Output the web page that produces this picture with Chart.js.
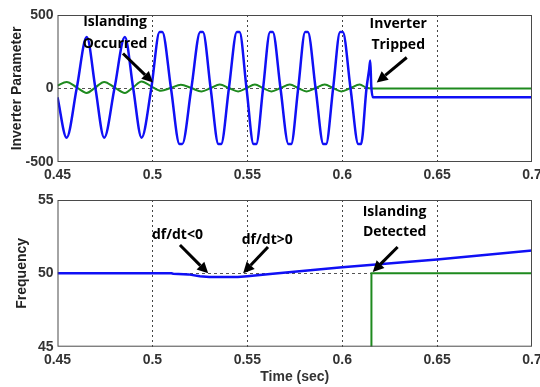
<!DOCTYPE html>
<html>
<head>
<meta charset="utf-8">
<script src="https://cdn.jsdelivr.net/npm/chart.js@4"></script>
<style>
  html, body { margin: 0; padding: 0; background: #fff; }
  #wrap { position: relative; width: 540px; height: 387px; overflow: hidden; }
  #topBox { position: absolute; left: 0; top: 0; width: 540px; height: 190px; }
  #botBox { position: absolute; left: 0; top: 190px; width: 540px; height: 197px; }
</style>
</head>
<body>
<div id="wrap">
  <div id="topBox"><canvas id="paramChart"></canvas></div>
  <div id="botBox"><canvas id="freqChart"></canvas></div>
</div>
<script>
// tick labels
const xTicks = [0.45, 0.5, 0.55, 0.6, 0.65, 0.7];
const xTickLabels = ['0.45', '0.5', '0.55', '0.6', '0.65', '0.7'];
const paramTicks = [-500, 0, 500];
const freqTicks = [45, 50, 55];

// inverter output (blue), read at peaks / troughs / zero crossings
const invTime = [0.4500, 0.4548, 0.4601, 0.4654, 0.4700, 0.4746, 0.4800, 0.4855, 0.4899, 0.4943,
  0.4994, 0.5038, 0.5052, 0.5098, 0.5143, 0.5157, 0.5205, 0.5252, 0.5266, 0.5307,
  0.5348, 0.5362, 0.5403, 0.5445, 0.5459, 0.5496, 0.5533, 0.5547, 0.5583, 0.5620,
  0.5634, 0.5675, 0.5717, 0.5731, 0.5768, 0.5805, 0.5819, 0.5860, 0.5901, 0.5915,
  0.5952, 0.5989, 0.6003, 0.6044, 0.6085, 0.6099, 0.6128, 0.6142, 0.6148, 0.6153,
  0.6162, 0.7000];
const invValue = [-60, -335, 0, 350, 0, -335, 0, 350, 0, -335,
  0, 385, 385, 0, -378, -378, 0, 385, 385, 0,
  -378, -378, 0, 385, 385, 0, -378, -378, 0, 385,
  385, 0, -378, -378, 0, 385, 385, 0, -378, -378,
  0, 385, 385, 0, -378, -378, 0, 130, 190, 20,
  -60, -60];

// second inverter quantity (green)
const auxTime = [0.4500, 0.4548, 0.4601, 0.4654, 0.4700, 0.4746, 0.4800, 0.4855, 0.4899, 0.4943,
  0.4994, 0.5045, 0.5098, 0.5150, 0.5205, 0.5259, 0.5307, 0.5355, 0.5403, 0.5452,
  0.5496, 0.5540, 0.5583, 0.5627, 0.5675, 0.5724, 0.5768, 0.5812, 0.5860, 0.5908,
  0.5952, 0.5996, 0.6044, 0.6092, 0.6128, 0.6155, 0.7000];
const auxValue = [20, 45, 8, -30, 8, 45, 8, -30, 8, 48,
  15, -15, 5, 25, 3, -20, 3, 27, 3, -20,
  3, 27, 3, -20, 3, 27, 3, -20, 3, 27,
  3, -20, 3, 27, 5, 0, 0];

// frequency (blue) and detection signal (green)
const freqTime = [0.45, 0.51, 0.511, 0.519, 0.525, 0.53, 0.545, 0.55, 0.562, 0.6, 0.65, 0.7];
const freqValue = [50, 50, 49.97, 49.93, 49.8, 49.75, 49.75, 49.8, 49.95, 50.41, 50.95, 51.55];
const detectTime = [0.6154, 0.6154, 0.7];
const detectValue = [45, 50, 50];

// text notes and arrows, in data units
const topNotes = [
  { x: 0.4803, y: 449, text: 'Islanding' },
  { x: 0.4803, y: 306, text: 'Occurred' },
  { x: 0.6295, y: 442, text: 'Inverter' },
  { x: 0.6295, y: 299, text: 'Tripped' }
];
const topArrows = [
  { from: [0.4845, 238], to: [0.5003, 41] },
  { from: [0.6340, 211], to: [0.6182, 41] }
];
const botNotes = [
  { x: 0.5132, y: 52.6, text: 'df/dt<0' },
  { x: 0.5605, y: 52.27, text: 'df/dt>0' },
  { x: 0.6276, y: 54.2, text: 'Islanding' },
  { x: 0.6276, y: 52.84, text: 'Detected' }
];
const botArrows = [
  { from: [0.5145, 51.93], to: [0.5294, 50.0] },
  { from: [0.5609, 51.8], to: [0.5478, 50.0] },
  { from: [0.6292, 51.8], to: [0.6161, 50.1] }
];

const BLUE = '#1010f5';
const GREEN = '#1e8a1e';
const tickFont = { family: 'Liberation Sans', size: 14, weight: 'bold' };

function toPoints(ts, vs) {
  return ts.map((t, i) => ({ x: t, y: vs[i] }));
}

function drawArrow(ctx, x1, y1, x2, y2) {
  const ang = Math.atan2(y2 - y1, x2 - x1);
  const head = 11, half = 5.5;
  const bx = x2 - head * Math.cos(ang), by = y2 - head * Math.sin(ang);
  ctx.beginPath();
  ctx.moveTo(x1, y1);
  ctx.lineTo(bx, by);
  ctx.lineWidth = 3;
  ctx.stroke();
  ctx.beginPath();
  ctx.moveTo(x2, y2);
  ctx.lineTo(bx + half * Math.sin(ang), by - half * Math.cos(ang));
  ctx.lineTo(bx - half * Math.sin(ang), by + half * Math.cos(ang));
  ctx.closePath();
  ctx.fill();
}

const notesPlugin = {
  id: 'notes',
  afterDraw(chart, args, opts) {
    const { ctx, chartArea: a } = chart;
    const xs = chart.scales.x, ys = chart.scales.y;
    ctx.save();
    ctx.strokeStyle = '#4a4a4a';
    ctx.lineWidth = 1;
    ctx.strokeRect(a.left + 0.5, a.top + 0.5, a.width - 1, a.height - 1);

    ctx.fillStyle = '#000';
    ctx.strokeStyle = '#000';
    ctx.font = 'bold 14px "Open Sans"';
    ctx.textAlign = 'center';
    ctx.textBaseline = 'middle';
    opts.notes.forEach(n => {
      ctx.fillText(n.text, xs.getPixelForValue(n.x), ys.getPixelForValue(n.y));
    });
    opts.arrows.forEach(ar => {
      drawArrow(ctx,
        xs.getPixelForValue(ar.from[0]), ys.getPixelForValue(ar.from[1]),
        xs.getPixelForValue(ar.to[0]), ys.getPixelForValue(ar.to[1]));
    });
    ctx.restore();
  }
};

function buildOptions(cfg) {
  return {
    responsive: true,
    maintainAspectRatio: false,
    animation: false,
    events: [],
    layout: { padding: { top: cfg.topPad, right: 8, left: 0, bottom: 0 } },
    elements: { point: { radius: 0 } },
    plugins: {
      legend: { display: false },
      tooltip: { enabled: false },
      notes: { notes: cfg.notes, arrows: cfg.arrows }
    },
    scales: {
      x: {
        type: 'linear',
        min: 0.45,
        max: 0.7,
        afterBuildTicks: s => { s.ticks = xTicks.map(v => ({ value: v })); },
        afterFit: s => { s.height = cfg.xHeight; s.paddingLeft = 0; s.paddingRight = 0; },
        ticks: {
          font: tickFont,
          color: '#333',
          padding: 5,
          maxRotation: 0,
          callback: (v, i) => xTickLabels[i]
        },
        grid: {
          drawTicks: false,
          lineWidth: 1,
          color: c => (c.index > 0 && c.index < xTicks.length - 1) ? '#444' : 'rgba(0,0,0,0)'
        },
        border: { display: false, dash: [2, 3] },
        title: {
          display: !!cfg.xTitle,
          text: cfg.xTitle || '',
          font: tickFont,
          color: '#333',
          padding: { top: 0, bottom: 1.5 }
        }
      },
      y: {
        min: cfg.yMin,
        max: cfg.yMax,
        afterBuildTicks: s => { s.ticks = cfg.yTicks.map(v => ({ value: v })); },
        afterFit: s => { s.width = 57.5; s.paddingTop = 0; s.paddingBottom = 0; },
        ticks: { font: tickFont, color: '#333', padding: 4 },
        grid: {
          drawTicks: false,
          lineWidth: 1,
          color: c => c.tick && c.tick.value === cfg.yRef ? '#555' : 'rgba(0,0,0,0)'
        },
        border: { display: false, dash: [3, 3] },
        title: {
          display: true,
          text: cfg.yTitle,
          font: tickFont,
          color: '#222',
          padding: { top: cfg.yTitlePad, bottom: 0 }
        }
      }
    }
  };
}

new Chart(document.getElementById('paramChart').getContext('2d'), {
  type: 'line',
  data: {
    datasets: [
      {
        data: toPoints(invTime, invValue),
        borderColor: BLUE,
        borderWidth: 2.5,
        cubicInterpolationMode: 'monotone',
        fill: false
      },
      {
        data: toPoints(auxTime, auxValue),
        borderColor: GREEN,
        borderWidth: 2,
        cubicInterpolationMode: 'monotone',
        fill: false
      }
    ]
  },
  options: buildOptions({
    topPad: 15, xHeight: 28, yMin: -500, yMax: 500, yTicks: paramTicks, yRef: 0,
    yTitle: 'Inverter Parameter', yTitlePad: 9, notes: topNotes, arrows: topArrows
  }),
  plugins: [notesPlugin]
});

new Chart(document.getElementById('freqChart').getContext('2d'), {
  type: 'line',
  data: {
    datasets: [
      {
        data: toPoints(freqTime, freqValue),
        borderColor: BLUE,
        borderWidth: 2.5,
        tension: 0,
        fill: false
      },
      {
        data: toPoints(detectTime, detectValue),
        borderColor: GREEN,
        borderWidth: 2,
        tension: 0,
        fill: false
      }
    ]
  },
  options: buildOptions({
    topPad: 10, xHeight: 40.3, yMin: 45, yMax: 55, yTicks: freqTicks, yRef: 50,
    yTitle: 'Frequency', yTitlePad: 14, xTitle: 'Time (sec)', notes: botNotes, arrows: botArrows
  }),
  plugins: [notesPlugin]
});
</script>
</body>
</html>
